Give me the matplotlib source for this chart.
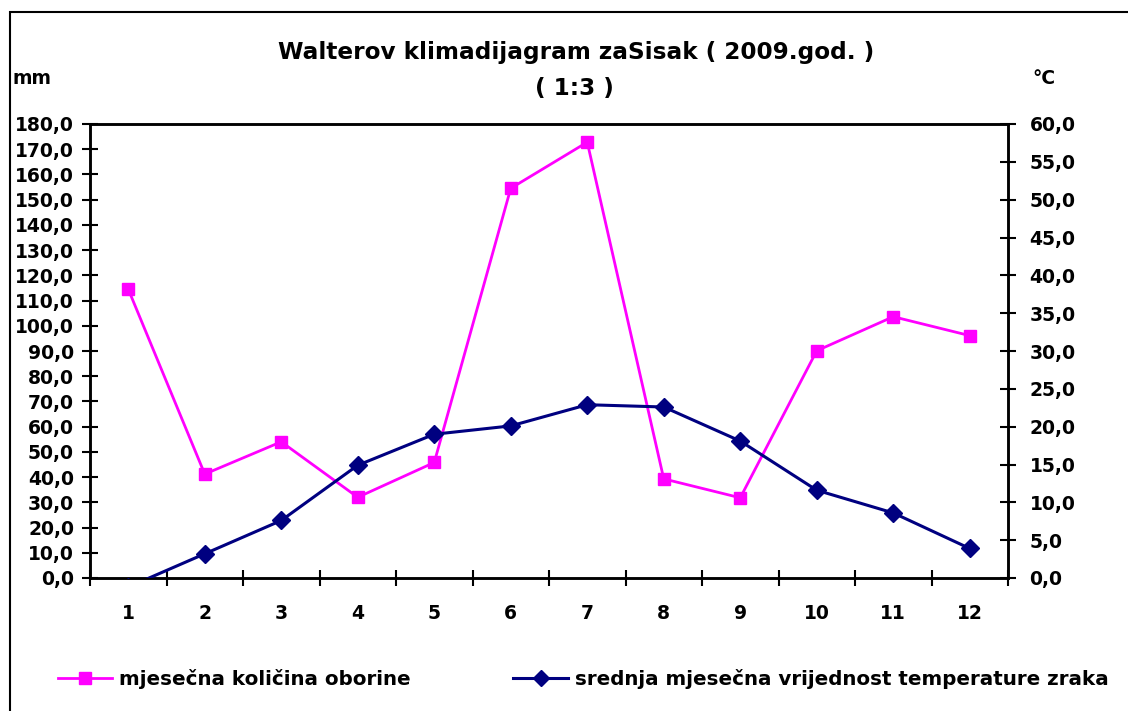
import matplotlib
matplotlib.use("Agg")
import matplotlib.pyplot as plt
from matplotlib.ticker import FuncFormatter, MultipleLocator, FixedLocator
from matplotlib.patches import Rectangle

plt.rcParams['font.family'] = ['DejaVu Sans']
plt.rcParams['font.weight'] = 'bold'

months = ['1', '2', '3', '4', '5', '6', '7', '8', '9', '10', '11', '12']
precip_mm = [114.5, 41.2, 54.0, 32.0, 45.8, 154.5, 172.8, 39.3, 31.8, 90.1, 103.6, 96.1]
temp_c = [-1.2, 3.2, 7.6, 14.9, 19.0, 20.1, 22.9, 22.6, 18.1, 11.6, 8.6, 3.9]

title_line1 = "Walterov klimadijagram zaSisak ( 2009.god. )"
title_line2 = "( 1:3 )"
left_unit = "mm"
right_unit = "°C"
precip_label = "mjesečna količina oborine"
temp_label = "srednja mjesečna vrijednost temperature zraka"

PINK = '#FF00FF'
NAVY = '#000080'
FS = 13.5

fig = plt.figure(figsize=(11.28, 7.11), dpi=100)
ax = fig.add_axes([90/1128, 1-578/711, (1008-90)/1128, (578-124)/711])
ax2 = ax.twinx()

x = list(range(len(months)))
lp, = ax.plot(x, precip_mm, color=PINK, lw=2, marker='s', markersize=9,
              markeredgecolor=PINK, markerfacecolor=PINK, zorder=3)
lt, = ax2.plot(x, temp_c, color=NAVY, lw=2.2, marker='D', markersize=9,
               markeredgecolor=NAVY, markerfacecolor=NAVY, zorder=3)

ax.set_xlim(-0.5, len(months) - 0.5)
ax.set_ylim(0, 180)
ax2.set_ylim(0, 60)
ax.yaxis.set_major_locator(MultipleLocator(10))
ax2.yaxis.set_major_locator(MultipleLocator(5))
fmt = FuncFormatter(lambda v, p: f"{v:.1f}".replace('.', ','))
ax.yaxis.set_major_formatter(fmt)
ax2.yaxis.set_major_formatter(fmt)

ax.set_xticks(x)
ax.set_xticklabels(months)
ax.xaxis.set_minor_locator(FixedLocator([i - 0.5 for i in range(len(months) + 1)]))
ax.tick_params(axis='x', which='major', length=0, pad=19, labelsize=FS)
ax.tick_params(axis='x', which='minor', direction='inout', length=11, width=1.5)
ax.tick_params(axis='y', direction='inout', length=11, width=1.5, labelsize=FS, pad=6)
ax2.tick_params(axis='y', direction='inout', length=11, width=1.5, labelsize=FS, pad=10)
for a in (ax, ax2):
    for s in a.spines.values():
        s.set_linewidth(1.8)
    for lab in a.get_yticklabels() + a.get_xticklabels():
        lab.set_fontweight('bold')

fig.text(576/1128, 1-53/711, title_line1, ha='center', va='center',
         fontsize=16.7, fontweight='bold')
fig.text(574/1128, 1-88/711, title_line2, ha='center', va='center',
         fontsize=16.7, fontweight='bold')
fig.text(12/1128, 1-78/711, left_unit, ha='left', va='center', fontsize=FS, fontweight='bold')
fig.text(1032/1128, 1-78/711, right_unit, ha='left', va='center', fontsize=FS, fontweight='bold')

fig.legend([lp, lt], [precip_label, temp_label], loc='center left',
           bbox_to_anchor=(40/1128, 1-679/711), ncol=2, frameon=False,
           handlelength=2.75, handletextpad=0.35, columnspacing=5.15,
           prop={'weight': 'bold', 'size': 14.3}, markerscale=0.9)

fig.patches.append(Rectangle((10/1128, -0.1), 1.2, 1.1 - 12/711,
                             transform=fig.transFigure, fill=False,
                             edgecolor='black', linewidth=1.5))

fig.savefig('out.png', dpi=100)
